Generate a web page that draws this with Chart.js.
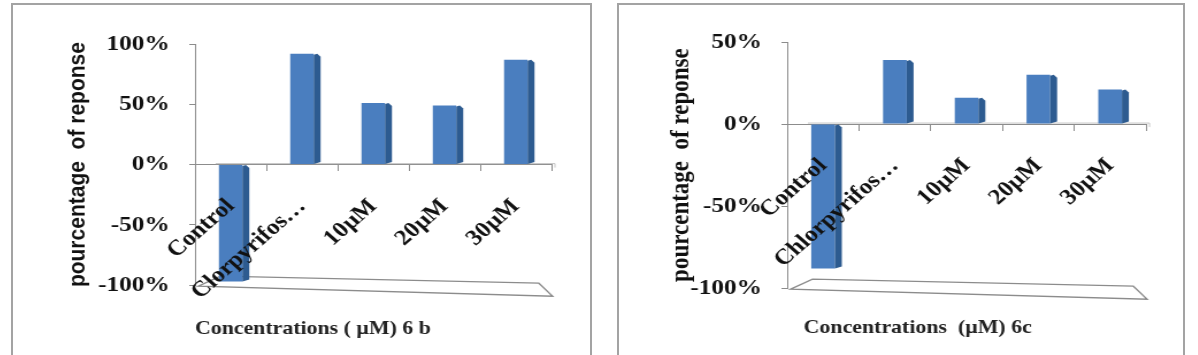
<!DOCTYPE html>
<html>
<head>
<meta charset="utf-8">
<script src="https://cdn.jsdelivr.net/npm/chart.js@4.4.1/dist/chart.umd.min.js"></script>
<style>
  body { margin: 0; width: 1198px; height: 355px; overflow: hidden; background: #fff; position: relative; }
  .frame { position: absolute; border: 2px solid #a3a3a3; border-bottom: none; height: 400px; box-sizing: border-box; }
  /* the source picture is stretched sideways, so the charts are too */
  .wrap { position: absolute; transform: scaleX(1.15); transform-origin: 0 0; }
</style>
</head>
<body>
<div class="frame" style="left:11px;top:3px;width:581px"></div>
<div class="frame" style="left:617px;top:3px;width:568px"></div>
<div class="wrap" style="left:11px;top:3px"><canvas id="chart6b" width="504" height="352"></canvas></div>
<div class="wrap" style="left:617px;top:4px"><canvas id="chart6c" width="492" height="352"></canvas></div>

<script>
// figure 6b
const categories6b = ['Control', 'Clorpyrifos…', '10µM', '20µM', '30µM']
const response6b = [-97, 92, 51, 49, 87]
const yTicks6b = [-100, -50, 0, 50, 100]

// figure 6c
const categories6c = ['Control', 'Chlorpyrifos…', '10µM', '20µM', '30µM']
const response6c = [-88, 39, 16, 30, 21]
const yTicks6c = [-100, -50, 0, 50]

const yTitle = 'pourcentage  of reponse'
const xTitle6b = 'Concentrations ( µM) 6 b'
const xTitle6c = 'Concentrations  (µM) 6c'

const serif = 'Liberation Serif'
const sans = 'Liberation Sans'
const axisGrey = '#8c8c8c'
const barBlue = '#4a7ebf'
const barSide = '#2d5b90'

// fake excel 3d look: floor at the bottom and a dark side on every bar
const depthPlugin = {
  id: 'depth',
  beforeDatasetsDraw(chart) {
    const ca = chart.chartArea
    const yb = chart.scales.y.getPixelForValue(chart.scales.y.min)
    const y0 = chart.scales.y.getPixelForValue(0)
    const ctx = chart.ctx
    ctx.save()
    ctx.strokeStyle = axisGrey
    ctx.lineWidth = 1.3
    ctx.beginPath()
    ctx.moveTo(ca.left + 3, yb + 1)
    ctx.lineTo(ca.left + 22, yb - 9)
    ctx.lineTo(ca.right - 11, yb - 2)
    ctx.lineTo(ca.right + 1, yb + 11)
    ctx.closePath()
    ctx.stroke()
    // thin back edge of the zero plane
    ctx.strokeStyle = '#c4c4c4'
    ctx.lineWidth = 1
    ctx.beginPath()
    ctx.moveTo(ca.left + 18, y0 - 1)
    ctx.lineTo(ca.right + 3, y0 - 1)
    ctx.lineTo(ca.right + 3, y0 + 3)
    ctx.stroke()
    ctx.restore()
  },
  afterDatasetsDraw(chart) {
    const ctx = chart.ctx
    ctx.save()
    chart.getDatasetMeta(0).data.forEach(bar => {
      const right = bar.x + bar.width / 2
      const top = Math.min(bar.y, bar.base)
      const bottom = Math.max(bar.y, bar.base)
      ctx.fillStyle = barSide
      ctx.beginPath()
      ctx.moveTo(right, top + 1)
      ctx.lineTo(right + 3, top)
      ctx.lineTo(right + 6, top + 3)
      ctx.lineTo(right + 6, bottom - 2)
      ctx.lineTo(right, bottom)
      ctx.closePath()
      ctx.fill()
    })
    ctx.restore()
  }
}

function makeChart(id, o) {
  const ctx = document.getElementById(id).getContext('2d')
  return new Chart(ctx, {
    type: 'bar',
    data: {
      labels: o.labels,
      datasets: [{
        data: o.values,
        backgroundColor: barBlue,
        borderWidth: 0,
        barPercentage: 0.33,
        categoryPercentage: 1
      }]
    },
    options: {
      responsive: false,
      animation: false,
      layout: { padding: o.padding },
      plugins: {
        legend: { display: false },
        tooltip: { enabled: false },
        title: {
          display: true,
          position: 'bottom',
          text: o.xTitle,
          color: '#222',
          font: { family: serif, size: 19, weight: 'bold' },
          padding: o.xTitlePad
        }
      },
      scales: {
        x: {
          position: { y: 0 },
          grid: { offset: true, drawOnChartArea: false, color: axisGrey, tickLength: 6 },
          border: { color: axisGrey },
          ticks: {
            z: 1, // labels sit on top of the bars like in the original
            autoSkip: false,
            minRotation: 45,
            maxRotation: 45,
            padding: 23,
            color: '#111',
            font: { family: serif, size: 22, weight: 'bold' }
          },
          afterFit: s => { s.height = 0 }
        },
        y: {
          min: o.yTicks[0],
          max: o.yTicks[o.yTicks.length - 1],
          afterBuildTicks: s => { s.ticks = o.yTicks.map(v => ({ value: v })) },
          grid: { drawOnChartArea: false, color: axisGrey, tickLength: 5 },
          border: { color: axisGrey },
          ticks: {
            padding: 17,
            color: '#111',
            font: { family: serif, size: 22, weight: 'bold' },
            callback: v => v + '%'
          },
          title: {
            display: true,
            text: yTitle,
            color: '#111',
            font: o.yTitleFont,
            padding: { top: o.yTitleOffset, bottom: 0 }
          },
          afterFit: s => { s.width = o.yWidth }
        }
      }
    },
    plugins: [depthPlugin]
  })
}

makeChart('chart6b', {
  labels: categories6b,
  values: response6b,
  yTicks: yTicks6b,
  xTitle: xTitle6b,
  padding: { left: 55, right: 34, top: 41, bottom: 0 },
  xTitlePad: { top: 32, bottom: 15 },
  yWidth: 105,
  yTitleFont: { family: sans, size: 21, weight: 'bold' },
  yTitleOffset: -9
})

makeChart('chart6c', {
  labels: categories6c,
  values: response6c,
  yTicks: yTicks6c,
  xTitle: xTitle6c,
  padding: { left: 63, right: 32, top: 38, bottom: 0 },
  xTitlePad: { top: 28, bottom: 17 },
  yWidth: 85,
  yTitleFont: { family: serif, size: 23, weight: 'bold' },
  yTitleOffset: -21
})
</script>
</body>
</html>
